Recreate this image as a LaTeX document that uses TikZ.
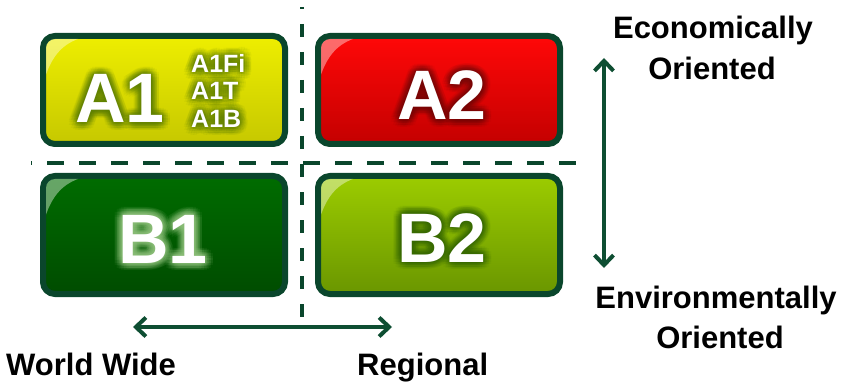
\documentclass[tikz,border=0pt]{standalone}
\usepackage{fontspec}
\setmainfont{Liberation Sans}
\usetikzlibrary{arrows.meta,calc}

\definecolor{frame}{RGB}{10,70,44}
\definecolor{axisgreen}{RGB}{14,78,50}
\definecolor{yellowtop}{RGB}{238,238,0}
\definecolor{yellowbot}{RGB}{198,200,0}
\definecolor{redtop}{RGB}{255,8,8}
\definecolor{redbot}{RGB}{196,0,0}
\definecolor{greentop}{RGB}{0,108,0}
\definecolor{greenbot}{RGB}{0,76,0}
\definecolor{limetop}{RGB}{156,204,0}
\definecolor{limebot}{RGB}{106,150,0}
\definecolor{glowolive}{RGB}{96,130,10}
\definecolor{glowred}{RGB}{120,10,10}
\definecolor{glowlight}{RGB}{150,200,130}
\definecolor{glowdark}{RGB}{56,106,0}

\tikzset{
  panelbox/.style={draw=frame, line width=6pt, rounded corners=12pt,
                   inner sep=0pt, outer sep=0pt},
  biglabel/.style={font=\fontsize{70}{70}\selectfont\bfseries, anchor=base, inner sep=0pt},
  smalllabel/.style={font=\fontsize{25}{25}\selectfont\bfseries, anchor=base west, inner sep=0pt},
  axislabel/.style={font=\fontsize{31}{31}\selectfont\bfseries, text=black, inner sep=0pt},
  divider/.style={draw=frame, line width=4pt},
  axisarrow/.style={draw=axisgreen, line width=4pt,
                    {Straight Barb[length=10pt,width=19pt]}-{Straight Barb[length=10pt,width=19pt]}}
}

% rounded glossy panel: name, x0, y0, x1, y1, top colour, bottom colour
\newcommand\panel[7]{%
  \node[panelbox, top color=#6, bottom color=#7,
        minimum width=#4pt-#2pt, minimum height=#5pt-#3pt]
        (#1) at ({(#2+#4)/2},{(#3+#5)/2}) {};
  \begin{scope}
    \clip[rounded corners=9pt] (#2+3,#3+3) rectangle (#4-3,#5-3);
    \fill[white, opacity=.4] (#2,#3) -- (#2+44,#3)
      .. controls (#2+22,#3+6) and (#2+9,#3+16) .. (#2,#3+48) -- cycle;
  \end{scope}
}

% white text with a soft coloured halo: name, options, position, halo colour, text
\newcommand\glowtext[5]{%
  \foreach \r in {2,4,6,8}{%
    \foreach \a in {0,20,...,340}{%
      \node[#2, text=#4, text opacity=.065] (#1h\r-\a) at ($(#3)+(\a:\r)$) {#5};
    }%
  }%
  \node[#2, text=white] (#1) at (#3) {#5};
}

\begin{document}
\begin{tikzpicture}[x=1pt, y=-1pt]
\useasboundingbox (0,0) rectangle (845,382);

% quadrant dividers
\coordinate (vdtop) at (302,7);
\coordinate (vdbot) at (302,318);
\coordinate (hdleft) at (31,163);
\coordinate (hdright) at (576,163);
\draw[divider, dash pattern=on 13pt off 15pt, dash phase=11pt] (vdtop) -- (vdbot);
\draw[divider, dash pattern=on 17pt off 15pt, dash phase=16pt] (hdleft) -- (hdright);

% scenario panels
\panel{pA1}{43}{36}{285}{144}{yellowtop}{yellowbot}
\panel{pA2}{318}{36}{560}{144}{redtop}{redbot}
\panel{pB1}{43}{176}{285}{294}{greentop}{greenbot}
\panel{pB2}{318}{176}{560}{294}{limetop}{limebot}

% panel labels
\glowtext{tA1}{biglabel}{120,123}{glowolive}{A1}
\glowtext{tA2}{biglabel}{442,120}{glowred}{A2}
\glowtext{tB1}{biglabel}{163,263}{glowlight}{B1}
\glowtext{tB2}{biglabel}{442,262}{glowdark}{B2}
\glowtext{tA1Fi}{smalllabel}{191,73}{glowolive}{A1Fi}
\glowtext{tA1T}{smalllabel}{191,100}{glowolive}{A1T}
\glowtext{tA1B}{smalllabel}{191,128}{glowolive}{A1B}

% axes
\coordinate (vtop) at (604,58);
\coordinate (vbot) at (604,268);
\coordinate (hleft) at (133,327);
\coordinate (hright) at (392,327);
\draw[axisarrow] (vtop) -- (vbot);
\draw[axisarrow] (hleft) -- (hright);

% axis captions
\node[axislabel, anchor=base] (econ) at (713,39) {Economically};
\node[axislabel, anchor=base] (econor) at (712,80) {Oriented};
\node[axislabel, anchor=base] (env) at (716,308) {Environmentally};
\node[axislabel, anchor=base] (envor) at (720,348) {Oriented};
\node[axislabel, anchor=base west] (world) at (6,375) {World Wide};
\node[axislabel, anchor=base west] (regional) at (357,375) {Regional};
\end{tikzpicture}
\end{document}
